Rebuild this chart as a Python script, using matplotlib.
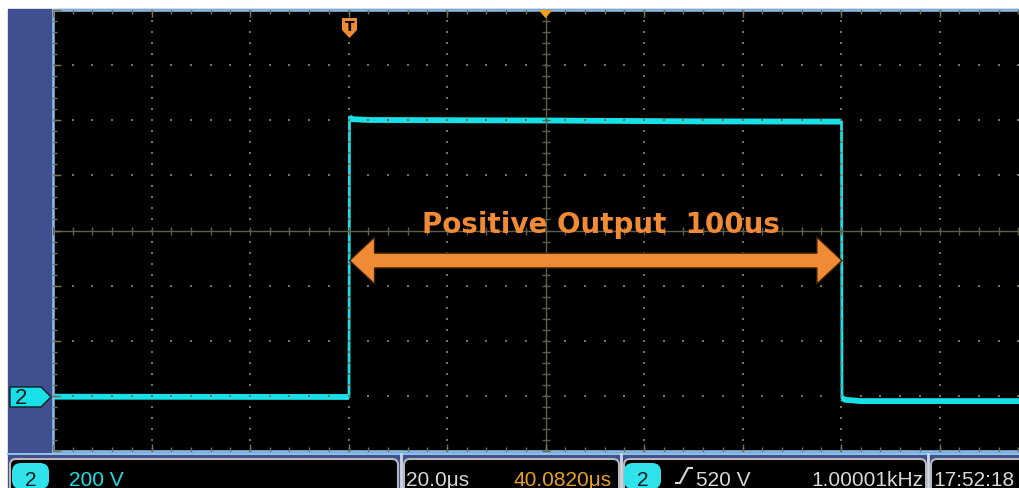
import matplotlib.pyplot as plt
import matplotlib.patches as mpatches
import numpy as np

W, H = 1019, 489

# channel 2 trace (time in us, level in V)
time_us = [-100, -39.9, -39.8, -39.3, -36, 0, 30, 60.1, 60.2, 60.8, 64, 100]
volts = [1, 0, 1016, 1008, 1005, 1003, 1000, 999, -4, -10, -15, -15]

us_per_div = 20
v_per_div = 200
gnd_div = 0.98          # divisions between bottom edge and ground marker
pulse_start = -39.8
pulse_end = 60.2

ch_label = '2'
volt_div = '200 V'
time_div = '20.0μs'
trig_delay = '40.0820μs'
trig_level = '520 V'
freq = '1.00001kHz'
clock = '17:52:18'
note = 'Positive Output  100us'

CYAN = '#19dfe6'
ORANGE = '#f08a35'
GRID = '#74745c'
FRAME = '#8cc0e8'
PANEL = '#3f4f8f'
STATUS_FONT = 'Liberation Sans'
SFS = 15

fig = plt.figure(figsize=(W / 100, H / 100), dpi=100)
fig.patch.set_facecolor('white')

# background chrome in pixel coords
bg = fig.add_axes([0, 0, 1, 1], zorder=0)
bg.set_xlim(0, W)
bg.set_ylim(H, 0)
bg.axis('off')
bg.add_patch(mpatches.Rectangle((8, 10), W, H, color=PANEL))

# grid area (right part is cut off by the picture edge)
left, top, bottom = 53, 11, 452
ax = fig.add_axes([left / W, (H - bottom) / H, 10 * 98.5 / W, (bottom - top) / H], zorder=1)
ax.set_facecolor('black')
ax.set_xlim(-5 * us_per_div, 5 * us_per_div)
y0 = -gnd_div * v_per_div
ax.set_ylim(y0, y0 + 8 * v_per_div)
ax.set_xticks([])
ax.set_yticks([])
for s in ax.spines.values():
    s.set_color(FRAME)
    s.set_linewidth(1.8)

xmaj = np.arange(-5, 6) * us_per_div + 0.0
ymaj = y0 + np.arange(0, 9) * v_per_div
xmin = np.arange(-25, 26) * us_per_div / 5
ymin = y0 + np.arange(0, 41) * v_per_div / 5
xc = 0.0
yc = y0 + 4 * v_per_div

# dotted graticule
for x in xmaj[1:-1]:
    if x != xc:
        ax.scatter(np.full(len(ymin), x), ymin, s=2.4, marker='s', color=GRID, lw=0, zorder=3)
for y in ymaj[1:-1]:
    if y != yc:
        ax.scatter(xmin, np.full(len(xmin), y), s=2.4, marker='s', color=GRID, lw=0, zorder=3)

# center cross with tick marks
ax.axvline(xc, color='#5e5e4a', lw=1, zorder=3)
ax.axhline(yc, color='#5e5e4a', lw=1, zorder=3)
ax.plot(np.full(len(ymin), xc), ymin, ls='none', marker='_', ms=6, mew=1, color='#5e5e4a', zorder=3)
ax.plot(xmin, np.full(len(xmin), yc), ls='none', marker='|', ms=6, mew=1, color='#5e5e4a', zorder=3)

# edge ticks
ax.plot(xmin, np.full(len(xmin), ymaj[-1]), ls='none', marker='|', ms=6, mew=1, color=GRID, zorder=3)
ax.plot(xmin, np.full(len(xmin), ymaj[0]), ls='none', marker='|', ms=6, mew=1, color=GRID, zorder=3)
ax.plot(np.full(len(ymin), xmaj[0]), ymin, ls='none', marker='_', ms=6, mew=1, color=GRID, zorder=3)
ax.plot(np.full(len(ymaj), xmaj[0]), ymaj, ls='none', marker='_', ms=11, mew=1, color=GRID, zorder=3)
ax.plot(xmaj, np.full(len(xmaj), ymaj[-1]), ls='none', marker='|', ms=10, mew=1, color=GRID, zorder=3)
ax.plot(xmaj, np.full(len(xmaj), ymaj[0]), ls='none', marker='|', ms=10, mew=1, color=GRID, zorder=3)

# trace: thin edges, thicker noisy levels
t = np.array(time_us, dtype=float)
v = np.array(volts, dtype=float)
ax.plot(t, v, color=CYAN, lw=2, zorder=2)
edge = set(np.where(np.diff(t) < 0.3)[0])
tt, vv = [], []
for i in range(len(t)):
    tt.append(t[i])
    vv.append(v[i])
    if i in edge:
        tt.append(np.nan)
        vv.append(np.nan)
ax.plot(tt, vv, color=CYAN, lw=4.2, zorder=2, solid_capstyle='butt')

# double arrow across the pulse
ay = 495
hw, sw, hl = 85, 27, 5.1
poly = [(pulse_start, ay), (pulse_start + hl, ay + hw), (pulse_start + hl, ay + sw),
        (pulse_end - hl, ay + sw), (pulse_end - hl, ay + hw), (pulse_end, ay),
        (pulse_end - hl, ay - hw), (pulse_end - hl, ay - sw), (pulse_start + hl, ay - sw),
        (pulse_start + hl, ay - hw)]
ax.add_patch(mpatches.Polygon(poly, closed=True, facecolor=ORANGE, edgecolor='#3a2008',
                              lw=1, zorder=5))
ax.text(11.2, 626, note, color=ORANGE, fontsize=20, fontweight='bold',
        ha='center', va='center', zorder=6)

# overlay for markers and status bar
ov = fig.add_axes([0, 0, 1, 1], zorder=2)
ov.set_xlim(0, W)
ov.set_ylim(H, 0)
ov.axis('off')


def to_px(x, y):
    return ov.transData.inverted().transform(ax.transData.transform((x, y)))


# ground marker for channel 2
gy = to_px(0, 0)[1]
ov.add_patch(mpatches.Polygon([(10, gy - 10), (41, gy - 10), (51, gy), (41, gy + 10), (10, gy + 10)],
                              closed=True, facecolor=CYAN, edgecolor='#102020', lw=1))
ov.text(21, gy + 1, ch_label, color='#0c1c1c', fontsize=16, family=STATUS_FONT,
        ha='center', va='center')

# trigger position marker
tx = to_px(pulse_start, 0)[0]
ov.add_patch(mpatches.Polygon([(tx - 7.5, 19), (tx + 7.5, 19), (tx + 7.5, 31), (tx, 39), (tx - 7.5, 31)],
                              closed=True, facecolor=ORANGE, edgecolor='none'))
ov.text(tx, 27, 'T', color='black', fontsize=10, fontweight='bold', ha='center', va='center')

# trigger centre marker at top
cx = to_px(0, 0)[0]
ov.add_patch(mpatches.Polygon([(cx - 7, 11), (cx + 7, 11), (cx, 19)], closed=True,
                              facecolor='#f0a020', edgecolor='none'))

# status bar
ov.plot([8, W], [455, 455], color=FRAME, lw=1.5)
for x0, x1 in [(10, 398), (404, 619), (624, 926), (931, W + 10)]:
    ov.add_patch(mpatches.FancyBboxPatch((x0, 460), x1 - x0, 40,
                                         boxstyle='round,pad=0,rounding_size=6',
                                         facecolor='black', edgecolor='#b8b8b8', lw=1.5))
for x in [401, 621.5, 928.5]:
    ov.plot([x, x], [455, H], color='#d0d8e8', lw=2)

for bx in [12, 624]:
    ov.add_patch(mpatches.FancyBboxPatch((bx, 464), 37, 26, boxstyle='round,pad=0,rounding_size=9',
                                         facecolor='#30e2ea', edgecolor='none'))
    ov.text(bx + 18.5, 486, ch_label, color='#0c1c1c', fontsize=SFS, family=STATUS_FONT,
            ha='center', va='baseline')

ov.text(69, 486, volt_div, color=CYAN, fontsize=SFS, family=STATUS_FONT, va='baseline')
ov.text(406, 486, time_div, color='#d8d8d8', fontsize=SFS, family=STATUS_FONT, va='baseline')
ov.text(612, 486, trig_delay, color='#e8a020', fontsize=SFS, family=STATUS_FONT,
        ha='right', va='baseline')
ov.plot([676, 680, 688, 692], [484, 484, 469, 469], color='#d8d8d8', lw=1.5)
ov.text(696, 486, trig_level, color='#d8d8d8', fontsize=SFS, family=STATUS_FONT, va='baseline')
ov.text(923, 486, freq, color='#d8d8d8', fontsize=SFS, family=STATUS_FONT,
        ha='right', va='baseline')
ov.text(933, 486, clock, color='#d8d8d8', fontsize=SFS, family=STATUS_FONT, va='baseline')

fig.savefig('out.png', dpi=100)
